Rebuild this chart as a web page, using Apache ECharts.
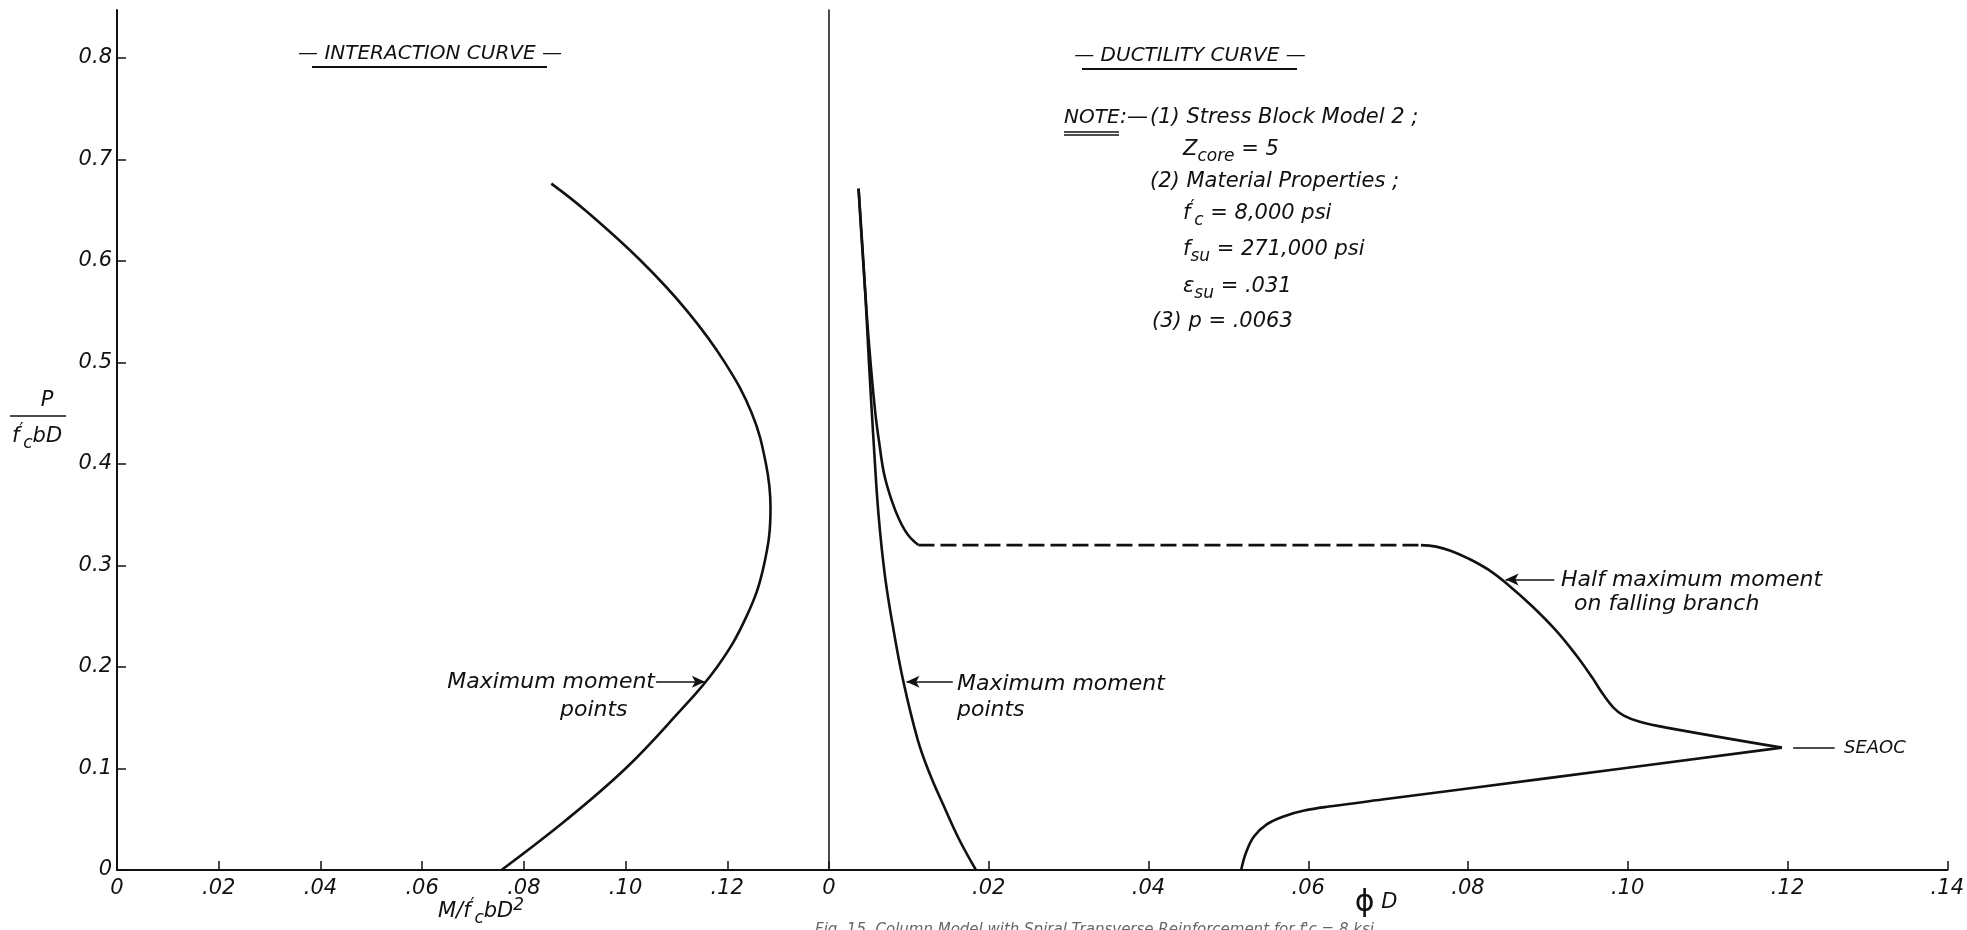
<!DOCTYPE html>
<html>
<head>
<meta charset="utf-8">
<title>Interaction and ductility curves</title>
<script src="https://cdn.jsdelivr.net/npm/echarts@6/dist/echarts.min.js"></script>
<style>
  html, body { margin: 0; padding: 0; background: #fff; }
  #chart { width: 1967px; height: 930px; }
</style>
</head>
<body>
<div id="chart"></div>
<script>
// tick values (both panels share the same labels)
var xTicks = [0, 0.02, 0.04, 0.06, 0.08, 0.10, 0.12, 0.14];
var yTicks = [0, 0.1, 0.2, 0.3, 0.4, 0.5, 0.6, 0.7, 0.8];

// interaction curve: M/f'c bD^2  vs  P/f'c bD
var interM = [0.0854, 0.0920, 0.1030, 0.1122, 0.1195, 0.1248, 0.1276, 0.1285, 0.1272, 0.1238, 0.1180, 0.1095, 0.1000, 0.0885, 0.0756];
var interP = [0.676, 0.650, 0.600, 0.550, 0.500, 0.450, 0.400, 0.357, 0.300, 0.250, 0.200, 0.150, 0.100, 0.050, 0];

// ductility curve: maximum moment points (phi D vs P)
var maxMomPhi = [0.0037, 0.0041, 0.0046, 0.0050, 0.0056, 0.0062, 0.0070, 0.0080, 0.0093, 0.0111, 0.0126, 0.0144, 0.0163, 0.0184];
var maxMomP = [0.671, 0.620, 0.560, 0.500, 0.420, 0.350, 0.290, 0.240, 0.186, 0.1285, 0.095, 0.0625, 0.030, 0];

// half maximum moment: top part down to the dashed level
var halfTopPhi = [0.0037, 0.0043, 0.0047, 0.0052, 0.0058, 0.0063, 0.0069, 0.0078, 0.0088, 0.0099, 0.0112];
var halfTopP = [0.671, 0.600, 0.550, 0.500, 0.450, 0.420, 0.390, 0.365, 0.345, 0.330, 0.320];

// dashed part
var dashPhi = [0.0112, 0.0741];
var dashP = [0.320, 0.320];

// falling branch down to the SEAOC point
var fallPhi = [0.0741, 0.0760, 0.0778, 0.0800, 0.0825, 0.0850, 0.0880, 0.0910, 0.0935, 0.0955, 0.0970, 0.0982, 0.0995, 0.1015, 0.1050, 0.1193];
var fallP = [0.320, 0.3185, 0.3145, 0.307, 0.296, 0.281, 0.260, 0.236, 0.212, 0.190, 0.172, 0.160, 0.152, 0.146, 0.140, 0.1205];

// SEAOC back to the axis
var seaocPhi = [0.1193, 0.0900, 0.0700, 0.0626, 0.0595, 0.0570, 0.0548, 0.0532, 0.0522, 0.0516];
var seaocP = [0.1205, 0.0905, 0.0701, 0.0625, 0.0585, 0.0530, 0.0450, 0.0330, 0.0170, 0];

var INK = "#111";
var FONT = "DejaVu Sans";

function pairs(xs, ys) {
  return xs.map(function (x, i) { return [x, ys[i]]; });
}

function fmtX(v) {
  if (v === 0) return "0";
  return v.toFixed(2).replace(/^0/, "");
}

function txt(x, y, text, size, align, extra) {
  var el = {
    type: "text",
    x: x,
    y: y,
    silent: true,
    style: {
      text: text,
      fill: INK,
      font: "italic " + (size || 21) + "px '" + FONT + "'",
      textAlign: align || "left",
      textVerticalAlign: "middle",
    },
  };
  if (extra) {
    for (var k in extra) el.style[k] = extra[k];
  }
  return el;
}

function hline(x1, x2, y, w) {
  return {
    type: "line",
    silent: true,
    shape: { x1: x1, y1: y, x2: x2, y2: y },
    style: { stroke: INK, lineWidth: w || 2 },
  };
}

// rich text styles for sub / superscripts
var rich = {
  n: { fontFamily: FONT, fontStyle: "italic", fontSize: 21, fill: INK, lineHeight: 30 },
  s: { fontFamily: FONT, fontStyle: "italic", fontSize: 17, fill: INK, lineHeight: 16, verticalAlign: "bottom" },
  p: { fontFamily: FONT, fontStyle: "italic", fontSize: 17, fill: INK, lineHeight: 14, verticalAlign: "top" },
  g: { fontFamily: FONT, fontSize: 30, fill: INK, lineHeight: 32 },
};

var chart = echarts.init(document.getElementById("chart"), null, { renderer: "canvas" });

var lineStyle = { color: INK, width: 2.6 };

function arrow(from, to) {
  return [
    { coord: from, symbol: "none" },
    { coord: to, symbol: "arrow", symbolSize: [9, 13] },
  ];
}

var tickFont = { color: INK, fontSize: 21, fontStyle: "italic", fontFamily: FONT };

var option = {
  backgroundColor: "#fff",
  animation: false,
  grid: [
    { left: 117, right: 1138, top: 10, bottom: 60 },
    { left: 829, right: 12, top: 10, bottom: 60 },
  ],
  xAxis: [
    {
      gridIndex: 0,
      type: "value",
      min: 0,
      max: 0.14,
      interval: 0.02,
      splitLine: { show: false },
      axisLine: { lineStyle: { color: INK, width: 2 } },
      axisTick: { inside: true, length: 9, customValues: xTicks, lineStyle: { color: INK, width: 1.5 } },
      axisLabel: Object.assign({ customValues: xTicks.slice(0, 7), formatter: fmtX, margin: 8 }, tickFont),
    },
    {
      gridIndex: 1,
      type: "value",
      min: 0,
      max: 0.14,
      interval: 0.02,
      splitLine: { show: false },
      axisLine: { lineStyle: { color: INK, width: 2 } },
      axisTick: { inside: true, length: 9, customValues: xTicks.slice(1), lineStyle: { color: INK, width: 1.5 } },
      axisLabel: Object.assign({ customValues: xTicks, formatter: fmtX, margin: 8 }, tickFont),
    },
  ],
  yAxis: [
    {
      gridIndex: 0,
      type: "value",
      min: 0,
      max: 0.847,
      splitLine: { show: false },
      axisLine: { lineStyle: { color: INK, width: 2 } },
      axisTick: { inside: true, length: 9, customValues: yTicks, lineStyle: { color: INK, width: 1.5 } },
      axisLabel: Object.assign({
        customValues: yTicks,
        formatter: function (v) { return v === 0 ? "0" : v.toFixed(1); },
        margin: 5,
      }, tickFont),
    },
    {
      gridIndex: 1,
      type: "value",
      min: 0,
      max: 0.847,
      splitLine: { show: false },
      axisLine: { lineStyle: { color: INK, width: 1.5 } },
      axisTick: { show: false },
      axisLabel: { show: false },
    },
  ],
  series: [
    {
      name: "interaction",
      type: "line",
      xAxisIndex: 0,
      yAxisIndex: 0,
      showSymbol: false,
      smooth: 0.4,
      lineStyle: lineStyle,
      data: pairs(interM, interP),
      markLine: {
        silent: true,
        animation: false,
        label: { show: false },
        lineStyle: { color: INK, width: 1.5, type: "solid" },
        data: [arrow([0.106, 0.1855], [0.1156, 0.1855])],
      },
    },
    {
      name: "maximum moment",
      type: "line",
      xAxisIndex: 1,
      yAxisIndex: 1,
      showSymbol: false,
      smooth: 0.4,
      lineStyle: lineStyle,
      data: pairs(maxMomPhi, maxMomP),
      markLine: {
        silent: true,
        animation: false,
        label: { show: false },
        lineStyle: { color: INK, width: 1.5, type: "solid" },
        data: [arrow([0.0155, 0.1855], [0.0097, 0.1855])],
      },
    },
    {
      name: "half top",
      type: "line",
      xAxisIndex: 1,
      yAxisIndex: 1,
      showSymbol: false,
      smooth: 0.4,
      lineStyle: lineStyle,
      data: pairs(halfTopPhi, halfTopP),
    },
    {
      name: "half dashed",
      type: "line",
      xAxisIndex: 1,
      yAxisIndex: 1,
      showSymbol: false,
      lineStyle: { color: INK, width: 2.6, type: [16, 6] },
      data: pairs(dashPhi, dashP),
    },
    {
      name: "falling",
      type: "line",
      xAxisIndex: 1,
      yAxisIndex: 1,
      showSymbol: false,
      smooth: 0.4,
      lineStyle: lineStyle,
      data: pairs(fallPhi, fallP),
      markLine: {
        silent: true,
        animation: false,
        label: { show: false },
        lineStyle: { color: INK, width: 1.5, type: "solid" },
        data: [
          arrow([0.0908, 0.286], [0.0847, 0.286]),
          [
            { coord: [0.1207, 0.1205], symbol: "none" },
            { coord: [0.1259, 0.1205], symbol: "none" },
          ],
        ],
      },
    },
    {
      name: "seaoc",
      type: "line",
      xAxisIndex: 1,
      yAxisIndex: 1,
      showSymbol: false,
      smooth: 0.4,
      lineStyle: lineStyle,
      data: pairs(seaocPhi, seaocP),
    },
  ],
  graphic: [
    // panel headings
    txt(430, 54, "— INTERACTION CURVE —", 20, "center"),
    hline(312, 547, 67, 2),
    txt(1190, 56, "— DUCTILITY CURVE —", 20, "center"),
    hline(1082, 1297, 69, 2),

    // note block
    txt(1064, 118, "NOTE", 20),
    hline(1064, 1119, 132, 1.5),
    hline(1064, 1119, 135, 1.5),
    txt(1120, 118, ":—", 21),
    txt(1150, 118, "(1) Stress Block Model 2 ;", 21),
    txt(1183, 150, "{n|Z}{s|core}{n| = 5}", 21, "left", { rich: rich }),
    txt(1150, 182, "(2) Material Properties ;", 21),
    txt(1183, 214, "{n|f}{p|′}{s|c}{n| = 8,000 psi}", 21, "left", { rich: rich }),
    txt(1183, 250, "{n|f}{s|su}{n| = 271,000 psi}", 21, "left", { rich: rich }),
    txt(1183, 287, "{n|ε}{s|su}{n| = .031}", 21, "left", { rich: rich }),
    txt(1152, 322, "(3) p = .0063", 21),

    // curve annotations
    txt(655, 682, "Maximum moment", 22, "right"),
    txt(560, 710, "points", 22),
    txt(957, 684, "Maximum moment", 22),
    txt(957, 710, "points", 22),
    txt(1561, 580, "Half maximum moment", 22),
    txt(1574, 604, "on falling branch", 22),
    txt(1844, 748, "SEAOC", 18),

    // axis names
    txt(47, 401, "P", 21, "center"),
    hline(10, 66, 416, 1.5),
    txt(12, 437, "{n|f}{p|′}{s|c}{n|bD}", 21, "left", { rich: rich }),
    txt(481, 912, "{n|M/f}{p|′}{s|c}{n|bD}{p|2}", 21, "center", { rich: rich }),
    txt(1376, 903, "{g|ϕ}{n| D}", 21, "center", { rich: rich }),

    // caption, cut by the bottom edge
    {
      type: "text",
      x: 815,
      y: 923,
      silent: true,
      style: {
        text: "Fig. 15  Column Model with Spiral Transverse Reinforcement for f'c = 8 ksi",
        fill: "#666",
        font: "italic 15px '" + FONT + "'",
        textAlign: "left",
        textVerticalAlign: "top",
      },
    },
  ],
};

chart.setOption(option);
</script>
</body>
</html>
